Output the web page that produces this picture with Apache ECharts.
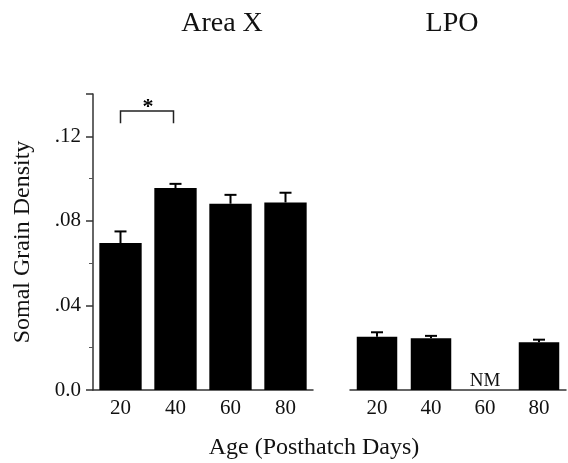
<!DOCTYPE html>
<html>
<head>
<meta charset="utf-8">
<script src="https://cdn.jsdelivr.net/npm/echarts@6/dist/echarts.min.js"></script>
<style>
  html, body { margin: 0; padding: 0; background: #fff; }
  #container { width: 568px; height: 463px; }
</style>
</head>
<body>
<div id="container"></div>
<script>
// ages (posthatch days)
var ages = ["20", "40", "60", "80"];
// Area X somal grain density, mean and top of error bar
var areaXMeans = [0.0695, 0.0955, 0.0881, 0.0887];
var areaXUpper = [0.0750, 0.0975, 0.0923, 0.0933];
// LPO, 60 days not measured
var lpoMeans = [0.0252, 0.0245, null, 0.0226];
var lpoUpper = [0.0273, 0.0256, null, 0.0238];
var lpoNotes = ["", "", "NM", ""];
// significance bracket between 20 and 40 in Area X
var sigPair = [0, 1];
var sigTop = 0.132;
var sigLeg = 0.1262;

var serif = "Liberation Serif, Times New Roman, serif";
var chartDom = document.getElementById("container");
var myChart = echarts.init(chartDom);

function errData(means, upper) {
  var out = [];
  means.map(function (m, i) {
    if (m !== null) out.push([i, m, upper[i]]);
  });
  return out;
}

function renderErr(params, api) {
  var base = api.coord([api.value(0), api.value(1)]);
  var top = api.coord([api.value(0), api.value(2)]);
  var st = { stroke: "#000", lineWidth: 2 };
  return {
    type: "group",
    children: [
      { type: "line", shape: { x1: base[0], y1: base[1], x2: top[0], y2: top[1] }, style: st },
      { type: "line", shape: { x1: top[0] - 6, y1: top[1], x2: top[0] + 6, y2: top[1] }, style: st }
    ]
  };
}

var yAxisCommon = {
  type: "value",
  min: 0,
  max: 0.14,
  interval: 0.04,
  splitLine: { show: false }
};

var titleText = { fontFamily: serif, fontSize: 28, fontWeight: "normal", color: "#111" };

var option = {
  animation: false,
  backgroundColor: "#fff",
  title: [
    { text: "Area X", left: 222, top: 10, padding: 0, textAlign: "center", textStyle: titleText },
    { text: "LPO", left: 452, top: 10, padding: 0, textAlign: "center", textStyle: titleText },
    { text: "Age (Posthatch Days)", left: 314, top: 436, padding: 0, textAlign: "center",
      textStyle: { fontFamily: serif, fontSize: 24, fontWeight: "normal", color: "#111" } }
  ],
  grid: [
    { left: 93, top: 94, width: 220, height: 296, outerBoundsMode: "none" },
    { left: 350, top: 94, width: 216, height: 296, outerBoundsMode: "none" }
  ],
  xAxis: [
    {
      gridIndex: 0, type: "category", data: ages,
      axisLine: { lineStyle: { color: "#333", width: 1.5 } },
      axisTick: { show: false },
      axisLabel: { fontFamily: serif, fontSize: 21, color: "#111", margin: 8 }
    },
    {
      gridIndex: 1, type: "category", data: ages,
      axisLine: { lineStyle: { color: "#333", width: 1.5 } },
      axisTick: { show: false },
      axisLabel: { fontFamily: serif, fontSize: 21, color: "#111", margin: 8 }
    }
  ],
  yAxis: [
    Object.assign({}, yAxisCommon, {
      gridIndex: 0,
      axisLine: { show: true, lineStyle: { color: "#333", width: 1.5 } },
      axisTick: { show: true, inside: false, length: 7, lineStyle: { color: "#333", width: 1.5 } },
      minorTick: { show: true, splitNumber: 2, length: 4, lineStyle: { color: "#555" } },
      axisLabel: {
        showMaxLabel: false,
        fontFamily: serif, fontSize: 21, color: "#111", margin: 12,
        formatter: function (v) {
          if (v === 0) return "0.0";
          return "." + Math.round(v * 100).toString().padStart(2, "0");
        }
      },
      name: "Somal Grain Density", nameLocation: "middle", nameGap: 58, nameRotate: 90,
      nameTextStyle: { fontFamily: serif, fontSize: 24, color: "#111" }
    }),
    Object.assign({}, yAxisCommon, {
      gridIndex: 1,
      axisLine: { show: false },
      axisTick: { show: false },
      axisLabel: { show: false }
    })
  ],
  series: [
    {
      type: "bar", xAxisIndex: 0, yAxisIndex: 0, data: areaXMeans,
      barCategoryGap: "23%", itemStyle: { color: "#000" }
    },
    {
      type: "custom", xAxisIndex: 0, yAxisIndex: 0,
      data: errData(areaXMeans, areaXUpper), renderItem: renderErr, z: 3
    },
    {
      type: "bar", xAxisIndex: 1, yAxisIndex: 1, data: lpoMeans,
      barCategoryGap: "25%", itemStyle: { color: "#000" }
    },
    {
      type: "custom", xAxisIndex: 1, yAxisIndex: 1,
      data: errData(lpoMeans, lpoUpper), renderItem: renderErr, z: 3
    },
    {
      type: "custom", xAxisIndex: 1, yAxisIndex: 1,
      data: lpoNotes.map(function (t, i) { return [i, 0, t]; }),
      renderItem: function (params, api) {
        var t = lpoNotes[params.dataIndex];
        if (!t) return null;
        var p = api.coord([api.value(0), 0]);
        return {
          type: "text",
          style: { x: p[0], y: p[1] + 1, text: t, textAlign: "center", textVerticalAlign: "bottom",
            font: "19px " + serif, fill: "#111" }
        };
      }
    },
    {
      type: "custom", xAxisIndex: 0, yAxisIndex: 0,
      data: [[sigPair[0], sigPair[1], sigTop, sigLeg]],
      renderItem: function (params, api) {
        var a = api.coord([api.value(0), api.value(3)]);
        var b = api.coord([api.value(1), api.value(3)]);
        var top = api.coord([api.value(0), api.value(2)])[1];
        return {
          type: "group",
          children: [
            { type: "polyline",
              shape: { points: [[a[0], a[1]], [a[0], top], [b[0] - 2, top], [b[0] - 2, b[1]]] },
              style: { stroke: "#222", lineWidth: 1.5, fill: null } },
            { type: "text",
              style: { x: (a[0] + b[0]) / 2, y: top - 4, text: "*", textAlign: "center",
                textVerticalAlign: "middle", font: "bold 22px " + serif, fill: "#000" } }
          ]
        };
      }
    }
  ]
};

option && myChart.setOption(option);
</script>
</body>
</html>
